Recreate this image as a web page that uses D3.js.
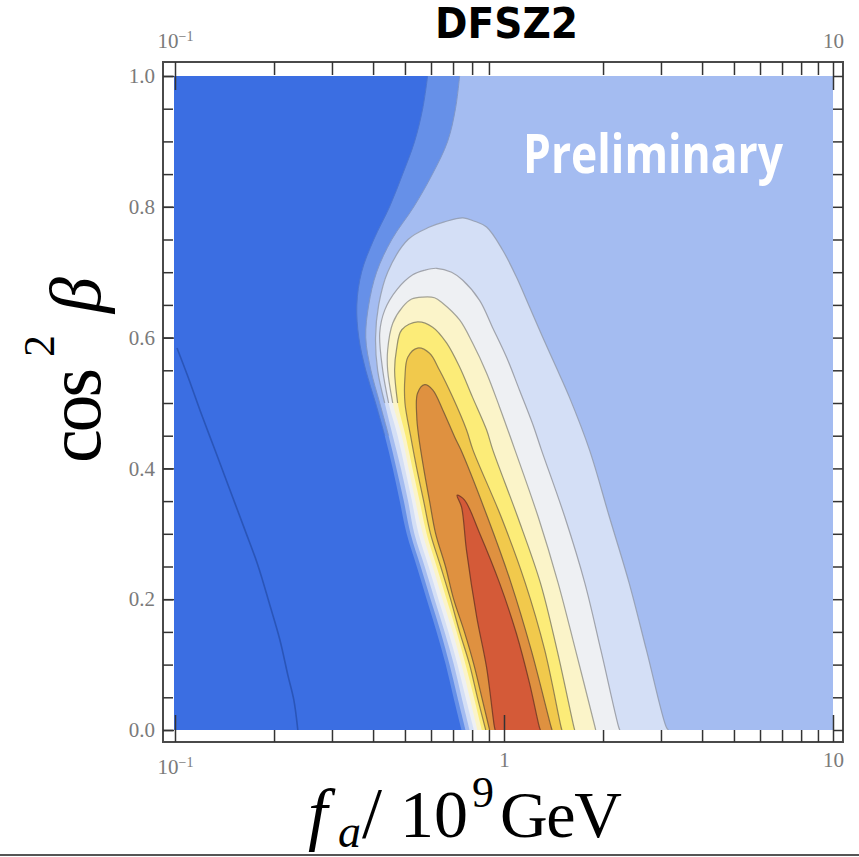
<!DOCTYPE html>
<meta charset="utf-8">
<style>
  html, body { margin:0; padding:0; background:#fff; overflow:hidden }
  .tick line { stroke:#333; stroke-width:1.5px; }
  .ticklab text { fill:#7a7a7a; font-family:"Liberation Serif", serif; font-size:21px; }
</style>
<svg id="chart" width="859" height="857"></svg>
<script src="https://cdn.jsdelivr.net/npm/d3@7"></script>
<script>

// ---- data: [f_a (10^9 GeV), cos^2 beta] ----

// dark blue / medium blue edge (top to bottom)
var edgeDark = [[0.586,1.0],[0.566,0.95],[0.535,0.9],[0.492,0.85],[0.449,0.8],[0.402,0.75],[0.369,0.7],[0.357,0.65],[0.362,0.6],[0.380,0.55],[0.407,0.5],[0.434,0.45],[0.459,0.4],[0.482,0.35],[0.506,0.3],[0.543,0.25],[0.582,0.2],[0.624,0.15],[0.665,0.1],[0.702,0.05],[0.743,0.0]];

// medium blue / light blue edge (top to bottom)
var edgeMedium = [[0.733,1.0],[0.712,0.95],[0.674,0.9],[0.606,0.85],[0.532,0.8],[0.456,0.75],[0.410,0.7],[0.388,0.65],[0.380,0.6],[0.394,0.55],[0.419,0.5],[0.446,0.45],[0.471,0.4],[0.496,0.35],[0.520,0.3],[0.558,0.25],[0.598,0.2],[0.642,0.15],[0.683,0.1],[0.722,0.05],[0.764,0.0]];

// closed contours, left side bottom->top, then right side top->bottom
var levelVeryLight = [[0.786,0],[0.743,0.05],[0.704,0.1],[0.660,0.15],[0.615,0.2],[0.574,0.25],[0.534,0.3],[0.511,0.35],[0.486,0.4],[0.459,0.45],[0.434,0.5],[0.413,0.55],[0.407,0.6],[0.416,0.65],[0.443,0.7],[0.511,0.75],[0.594,0.769],[0.659,0.777],[0.75,0.783],[0.813,0.778],[0.885,0.769],[0.99,0.734],[1.09,0.693],[1.195,0.647],[1.31,0.601],[1.44,0.555],[1.58,0.509],[1.82,0.428],[2.09,0.326],[2.40,0.225],[2.71,0.122],[3.11,0.005],[3.16,0]];

var levelWhite = [[0.81,0],[0.764,0.05],[0.722,0.1],[0.678,0.15],[0.632,0.2],[0.59,0.25],[0.55,0.3],[0.525,0.35],[0.5,0.4],[0.475,0.45],[0.446,0.5],[0.428,0.55],[0.419,0.607],[0.434,0.642],[0.472,0.673],[0.528,0.696],[0.574,0.703],[0.624,0.706],[0.693,0.700],[0.748,0.688],[0.843,0.657],[0.922,0.616],[1.018,0.570],[1.114,0.520],[1.22,0.469],[1.30,0.428],[1.53,0.326],[1.76,0.225],[1.97,0.122],[2.23,0.005],[2.25,0]];

var levelPaleYellow = [[0.83,0],[0.786,0.05],[0.743,0.1],[0.698,0.15],[0.65,0.2],[0.607,0.25],[0.566,0.3],[0.538,0.35],[0.513,0.4],[0.489,0.45],[0.459,0.5],[0.443,0.55],[0.443,0.581],[0.459,0.622],[0.492,0.647],[0.524,0.659],[0.566,0.662],[0.615,0.661],[0.650,0.653],[0.733,0.627],[0.802,0.592],[0.885,0.546],[0.969,0.494],[1.08,0.428],[1.27,0.326],[1.46,0.225],[1.65,0.122],[1.89,0.005],[1.90,0]];

var levelYellow = [[0.856,0],[0.81,0.05],[0.764,0.1],[0.718,0.15],[0.669,0.2],[0.624,0.25],[0.582,0.3],[0.554,0.35],[0.527,0.4],[0.502,0.45],[0.475,0.5],[0.465,0.55],[0.471,0.581],[0.489,0.612],[0.546,0.624],[0.607,0.616],[0.669,0.592],[0.733,0.555],[0.802,0.509],[0.885,0.459],[0.925,0.428],[1.10,0.326],[1.29,0.225],[1.45,0.122],[1.63,0.005],[1.64,0]];

var levelGold = [[0.88,0],[0.83,0.05],[0.786,0.1],[0.733,0.15],[0.688,0.2],[0.642,0.25],[0.598,0.3],[0.57,0.35],[0.543,0.4],[0.52,0.45],[0.5,0.5],[0.5,0.54],[0.51,0.57],[0.546,0.584],[0.594,0.576],[0.637,0.55],[0.698,0.509],[0.769,0.459],[0.805,0.428],[0.98,0.326],[1.16,0.225],[1.33,0.122],[1.49,0.005],[1.50,0]];

var levelOrange = [[0.904,0],[0.856,0.05],[0.81,0.1],[0.758,0.15],[0.703,0.2],[0.664,0.25],[0.62,0.3],[0.594,0.35],[0.57,0.4],[0.55,0.45],[0.543,0.479],[0.546,0.515],[0.574,0.528],[0.607,0.52],[0.652,0.489],[0.708,0.448],[0.74,0.428],[0.89,0.326],[1.05,0.225],[1.21,0.122],[1.39,0.005],[1.40,0]];

var levelRed = [[0.94,0],[0.935,0.005],[0.885,0.096],[0.826,0.173],[0.769,0.275],[0.743,0.341],[0.72,0.359],[0.758,0.352],[0.843,0.301],[0.969,0.225],[1.09,0.148],[1.195,0.072],[1.28,0.005],[1.29,0]];

// thin contour inside the dark blue region
var darkLine = [[0.1014,0.584],[0.1095,0.540],[0.1191,0.489],[0.1323,0.428],[0.1469,0.367],[0.1631,0.306],[0.1786,0.252],[0.1942,0.191],[0.2083,0.138],[0.2203,0.084],[0.2297,0.046],[0.2362,0]];

var xMajor = [0.1, 1, 10];
var xMajorLabels = ["10", "1", "10"];
var xMinor = [0.2,0.3,0.4,0.5,0.6,0.7,0.8,0.9,2,3,4,5,6,7,8,9];
var yTicks = [0,0.05,0.1,0.15,0.2,0.25,0.3,0.35,0.4,0.45,0.5,0.55,0.6,0.65,0.7,0.75,0.8,0.85,0.9,0.95,1.0];
var yLabels = [0,0.2,0.4,0.6,0.8,1.0];

var baseColor = "#3b6ee2";
var edgeColors = ["#6690e8", "#a4bcf1"];
var levelColors = ["#d4dff6", "#eef0f3", "#fbf4c9", "#fcec78", "#f1c94c", "#df9140", "#d45a38"];
var levelStrokes = ["#9098aa", "#90929a", "#8e8e86", "#7e7a60", "#7a6a48", "#6e5236", "#6a3424"];

/*  --  */

var svg = d3.select("#chart");

var x = d3.scaleLog().domain([0.1, 10]).range([175, 833]);
var y = d3.scaleLinear().domain([0, 1]).range([730, 76]);

svg.append("rect").attr("width", 859).attr("height", 857).attr("fill", "#fff");

svg.append("clipPath").attr("id", "plotclip")
    .append("rect")
    .attr("x", x(0.1) - 1).attr("y", y(1))
    .attr("width", x(10) - x(0.1) + 1).attr("height", y(0) - y(1));

var plot = svg.append("g").attr("clip-path", "url(#plotclip)");

var line = d3.line()
    .x(function(d) { return x(d[0]); })
    .y(function(d) { return y(d[1]); })
    .curve(d3.curveCatmullRom.alpha(0.5));

plot.append("rect")
    .attr("x", x(0.1) - 1).attr("y", y(1))
    .attr("width", x(10) - x(0.1) + 1).attr("height", y(0) - y(1))
    .attr("fill", baseColor);

[edgeDark, edgeMedium].forEach(function(pts, i) {
    plot.append("path")
        .attr("d", line(pts) + "L" + x(10) + "," + y(0) + "L" + x(10) + "," + y(1) + "Z")
        .attr("fill", edgeColors[i]);
});
[edgeDark, edgeMedium].forEach(function(pts, i) {
    plot.append("path")
        .attr("d", line(pts.filter(function(p) { return p[1] >= 0.45; })))
        .attr("fill", "none")
        .attr("stroke", i == 0 ? "#4c76d0" : "#7f97c8")
        .attr("stroke-width", 1);
});

var levels = [levelVeryLight, levelWhite, levelPaleYellow, levelYellow, levelGold, levelOrange, levelRed];

levels.forEach(function(pts, i) {
    plot.append("path")
        .attr("d", line(pts) + "Z")
        .attr("fill", levelColors[i]);
});
levels.forEach(function(pts, i) {
    // the squeezed lower-left flank of the light levels shows no line in the original
    var start = i < 4 ? pts.findIndex(function(p) { return p[1] >= 0.5; }) : 0;
    plot.append("path")
        .attr("d", line(pts.slice(start)))
        .attr("fill", "none")
        .attr("stroke", levelStrokes[i])
        .attr("stroke-opacity", 0.8)
        .attr("stroke-width", 1.2);
});

plot.append("path")
    .attr("d", line(darkLine))
    .attr("fill", "none")
    .attr("stroke", "#2a55b8")
    .attr("stroke-width", 1.6);

// frame
svg.append("rect")
    .attr("x", 163).attr("y", 62).attr("width", 680).attr("height", 680)
    .attr("fill", "none").attr("stroke", "#4a4a4a").attr("stroke-width", 2);

function clean(g) { g.select(".domain").remove(); }

// 10^-1 label gets a real superscript
function powLabel(g) {
    g.selectAll("text").filter(function(d) { return d == 0.1; })
        .append("tspan").attr("dy", "-0.5em").style("font-size", "14px").text("\u22121");
}

// bottom
svg.append("g").attr("transform", "translate(0,742)")
    .call(d3.axisBottom(x).tickValues(xMinor).tickSize(-12).tickFormat("")).call(clean);
var bottomLab = svg.append("g").attr("class", "ticklab").attr("transform", "translate(0,742)")
    .call(d3.axisBottom(x).tickValues(xMajor).tickSize(-27).tickPadding(10)
        .tickFormat(function(d, i) { return xMajorLabels[i]; })).call(clean).call(powLabel);
bottomLab.selectAll("text").filter(function(d) { return d == 0.1; }).attr("dy", "1.05em");
// top
svg.append("g").attr("transform", "translate(0,62)")
    .call(d3.axisTop(x).tickValues(xMinor).tickSize(-13).tickFormat("")).call(clean);
svg.append("g").attr("class", "ticklab").attr("transform", "translate(0,62)")
    .call(d3.axisTop(x).tickValues(xMajor.filter(function(d) { return d != 1; })).tickSize(-28).tickPadding(14)
        .tickFormat(function(d) { return xMajorLabels[xMajor.indexOf(d)]; })).call(clean).call(powLabel);
// left
svg.append("g").attr("transform", "translate(163,0)")
    .call(d3.axisLeft(y).tickValues(yTicks).tickSize(-10).tickFormat("")).call(clean);
svg.append("g").attr("class", "ticklab").attr("transform", "translate(163,0)")
    .call(d3.axisLeft(y).tickValues(yLabels).tickSize(-11).tickPadding(8).tickFormat(d3.format(".1f"))).call(clean);
// right
svg.append("g").attr("transform", "translate(843,0)")
    .call(d3.axisRight(y).tickValues(yTicks).tickSize(-10).tickFormat("")).call(clean);

// title + watermark
svg.append("text")
    .attr("x", 435).attr("y", 38)
    .attr("textLength", 143).attr("lengthAdjust", "spacingAndGlyphs")
    .style("font-family", "'Liberation Sans Narrow','DejaVu Sans Condensed','Roboto',sans-serif")
    .style("font-weight", "bold").style("font-size", "42px")
    .text("DFSZ2");

svg.append("text")
    .attr("x", 523).attr("y", 173)
    .attr("textLength", 260).attr("lengthAdjust", "spacingAndGlyphs")
    .style("font-family", "'Open Sans',sans-serif")
    .style("font-weight", "bold").style("font-size", "54px")
    .attr("fill", "#fff")
    .text("Preliminary");

// axis titles
var ylab = svg.append("text")
    .attr("transform", "translate(100,463) rotate(-90)")
    .style("font-family", "'Liberation Serif',serif").attr("fill", "#000");
ylab.append("tspan").attr("x", 0).attr("textLength", 95).style("font-size", "76px").text("cos");
ylab.append("tspan").attr("x", 106).attr("dy", -46).style("font-size", "44px").text("2");
ylab.append("tspan").attr("x", 150).attr("dy", 46).style("font-size", "72px").style("font-style", "italic").text("\u03B2");

var xlab = svg.append("text")
    .attr("y", 837)
    .style("font-family", "'Liberation Serif',serif").attr("fill", "#000");
xlab.append("tspan").attr("x", 308).style("font-size", "70px").style("font-style", "italic").text("f");
xlab.append("tspan").attr("x", 338).attr("dy", 10).style("font-size", "46px").style("font-style", "italic").text("a");
xlab.append("tspan").attr("x", 362).attr("dy", -10).style("font-size", "72px").text("/");
xlab.append("tspan").attr("x", 400).style("font-size", "68px").text("10");
xlab.append("tspan").attr("x", 472).attr("dy", -30).style("font-size", "44px").text("9");
xlab.append("tspan").attr("x", 500).attr("dy", 30).attr("textLength", 122).style("font-size", "66px").text("GeV");

svg.append("line")
    .attr("x1", 0).attr("x2", 859).attr("y1", 855).attr("y2", 855)
    .attr("stroke", "#555").attr("stroke-width", 2);

</script>
